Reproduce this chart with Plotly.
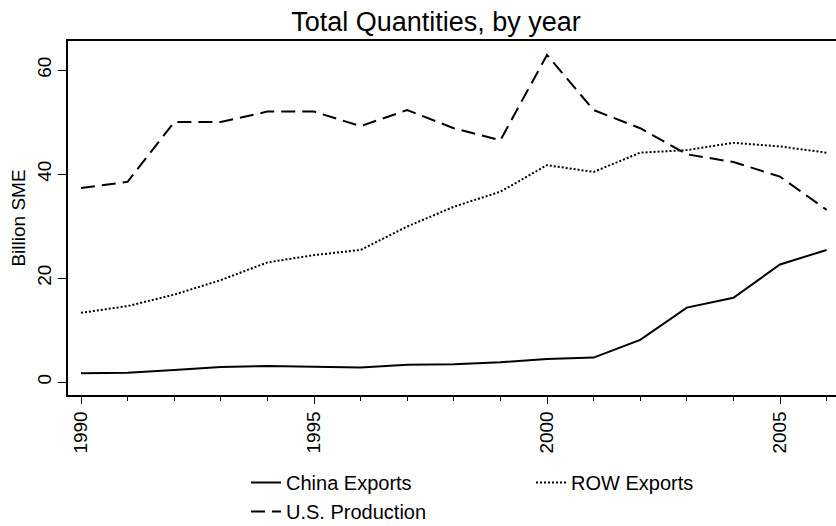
import plotly.graph_objects as go

years = list(range(1990, 2007))
china_exports = [1.7, 1.8, 2.3, 2.9, 3.1, 3.0, 2.8, 3.3, 3.4, 3.8, 4.4, 4.7, 8.1, 14.3, 16.2, 22.6, 25.4]
row_exports = [13.3, 14.6, 16.8, 19.6, 23.0, 24.4, 25.4, 29.9, 33.7, 36.6, 41.7, 40.4, 44.1, 44.6, 46.0, 45.3, 44.1]
us_production = [37.3, 38.5, 50.0, 50.0, 52.0, 52.0, 49.2, 52.3, 48.8, 46.5, 62.9, 52.3, 48.8, 43.8, 42.3, 39.5, 33.1]

x_ticks = [1990, 1995, 2000, 2005]
y_ticks = [0, 20, 40, 60]

FONT = "Liberation Sans, Arial, Helvetica, sans-serif"

fig = go.Figure()
fig.add_trace(go.Scatter(x=years, y=china_exports, mode="lines", name="China Exports",
                         line=dict(color="black", width=2, dash="solid")))
fig.add_trace(go.Scatter(x=years, y=row_exports, mode="lines", name="ROW Exports",
                         line=dict(color="black", width=2, dash="2px,2px")))
fig.add_trace(go.Scatter(x=years, y=us_production, mode="lines", name="U.S. Production",
                         line=dict(color="black", width=2, dash="14px,7px")))

fig.update_layout(
    width=836, height=526,
    margin=dict(l=68, r=0, t=41, b=131, pad=0),
    plot_bgcolor="white", paper_bgcolor="white",
    font=dict(family=FONT, color="black", size=19),
    title=dict(text="Total Quantities, by year", x=436/836, xref="container", xanchor="center",
               y=1-22/526, yref="container", yanchor="middle",
               font=dict(size=27, family=FONT, color="black")),
    showlegend=True,
    legend=dict(orientation="h", x=246/836, xref="container", xanchor="left",
                y=1-463/526, yref="container", yanchor="top",
                entrywidth=240, entrywidthmode="pixels", font=dict(size=20, family=FONT),
                bgcolor="rgba(0,0,0,0)", tracegroupgap=0, itemwidth=30),
)

fig.update_xaxes(
    range=[1990 - 13/46.6, 1990 + (836-81)/46.6],
    tickmode="array", tickvals=x_ticks, ticktext=[str(v) for v in x_ticks],
    tickangle=-90, ticks="outside", ticklen=7, tickwidth=1, tickcolor="black",
    minor=dict(dtick=1, tick0=1990, ticks="outside", ticklen=4, tickcolor="black", tickwidth=1, showgrid=False),
    showline=True, linecolor="black", linewidth=1.5, mirror=True,
    showgrid=False, zeroline=False, automargin=False,
    tickfont=dict(size=19, family=FONT),
)
fig.update_yaxes(
    range=[-2.5, 65.58],
    tickmode="array", tickvals=y_ticks, ticktext=[str(v) for v in y_ticks],
    tickangle=-90, ticks="outside", ticklen=8, tickwidth=1, tickcolor="black",
    showline=True, linecolor="black", linewidth=1.5, mirror=False,
    showgrid=False, zeroline=False, automargin=False,
    title=dict(text="Billion SME", font=dict(size=19, family=FONT), standoff=3),
    tickfont=dict(size=19, family=FONT),
)

fig.write_html("out.html", config={"displayModeBar": False},
               post_script="document.body.style.margin='0';document.body.style.overflow='hidden';")
